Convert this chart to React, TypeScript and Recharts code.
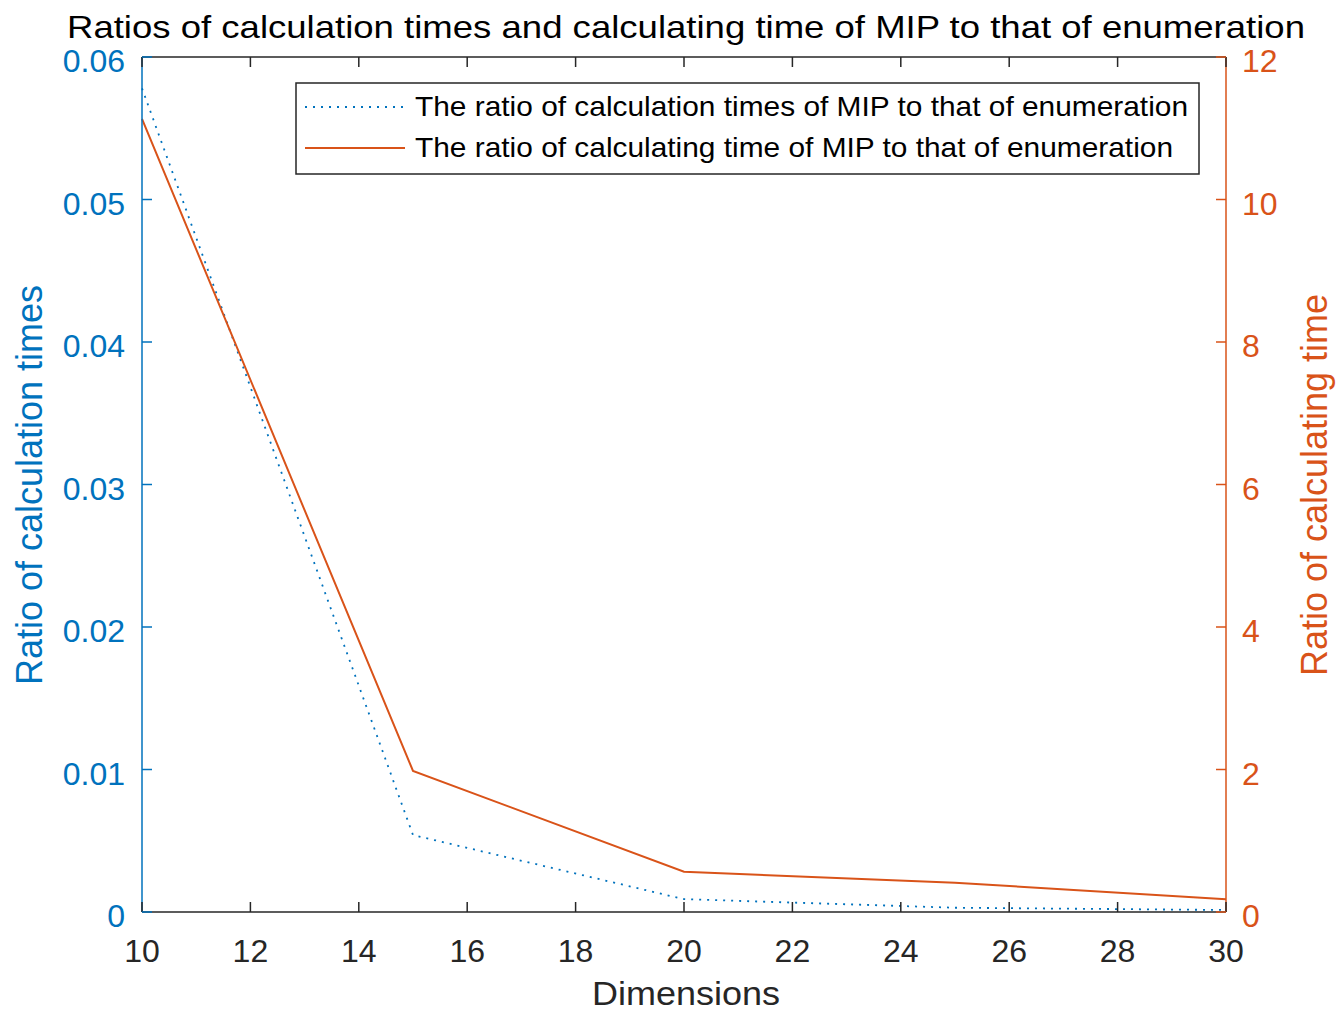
import React from 'react';
import { LineChart, Line, XAxis, YAxis, Legend, Customized } from 'recharts';

const dimensions = [10, 15, 20, 25, 30];
const calcTimesRatio = [0.0578, 0.0054, 0.0009, 0.0003, 0.00014];
const calcTimeRatio = [11.13, 1.98, 0.565, 0.41, 0.18];

const xTicks = [10, 12, 14, 16, 18, 20, 22, 24, 26, 28, 30];
const leftTicks = [0, 0.01, 0.02, 0.03, 0.04, 0.05, 0.06];
const leftTickLabels = ['0', '0.01', '0.02', '0.03', '0.04', '0.05', '0.06'];
const rightTicks = [0, 2, 4, 6, 8, 10, 12];

const seriesNames = [
  'The ratio of calculation times of MIP to that of enumeration',
  'The ratio of calculating time of MIP to that of enumeration',
];
const titleText = 'Ratios of calculation times and calculating time of MIP to that of enumeration';
const xLabel = 'Dimensions';
const leftLabel = 'Ratio of calculation times';
const rightLabel = 'Ratio of calculating time';

const data = dimensions.map((d, i) => ({
  dim: d,
  times: calcTimesRatio[i],
  time: calcTimeRatio[i],
}));

const BLUE = '#0072BD';
const ORANGE = '#D95319';
const DARK = '#262626';
const FONT = '"Liberation Sans", Arial, Helvetica, sans-serif';
const TICK_FS = 32;
const TICK_LEN = 10;

const BottomTick = (props: any) => {
  const { x, y, payload } = props;
  return (
    <g>
      <line x1={x} y1={y} x2={x} y2={y - TICK_LEN} stroke={DARK} strokeWidth={1.5} />
      <text x={x} y={y + 50} textAnchor="middle" fill={DARK} fontSize={TICK_FS} fontFamily={FONT}>
        {payload.value}
      </text>
    </g>
  );
};

const TopTick = (props: any) => {
  const { x, y } = props;
  return <line x1={x} y1={y} x2={x} y2={y + TICK_LEN} stroke={DARK} strokeWidth={1.5} />;
};

const LeftTick = (props: any) => {
  const { x, y, payload } = props;
  const idx = leftTicks.indexOf(payload.value);
  const label = idx >= 0 ? leftTickLabels[idx] : String(payload.value);
  return (
    <g>
      <line x1={x} y1={y} x2={x + TICK_LEN} y2={y} stroke={BLUE} strokeWidth={1.5} />
      <text x={x - 17} y={y + 15} textAnchor="end" fill={BLUE} fontSize={TICK_FS} fontFamily={FONT}>
        {label}
      </text>
    </g>
  );
};

const RightTick = (props: any) => {
  const { x, y, payload } = props;
  return (
    <g>
      <line x1={x} y1={y} x2={x - TICK_LEN} y2={y} stroke={ORANGE} strokeWidth={1.5} />
      <text x={x + 16} y={y + 15} textAnchor="start" fill={ORANGE} fontSize={TICK_FS} fontFamily={FONT}>
        {payload.value}
      </text>
    </g>
  );
};

const Texts = () => (
  <g fontFamily={FONT}>
    <text x={67} y={38} fontSize={32} fill="#000" textLength={1238} lengthAdjust="spacingAndGlyphs">
      {titleText}
    </text>
    <text x={592} y={1005} fontSize={33} fill={DARK} textLength={188} lengthAdjust="spacingAndGlyphs">
      {xLabel}
    </text>
    <text
      x={42}
      y={485}
      fontSize={36}
      fill={BLUE}
      textAnchor="middle"
      transform="rotate(-90, 42, 485)"
    >
      {leftLabel}
    </text>
    <text
      x={1327}
      y={485}
      fontSize={36}
      fill={ORANGE}
      textAnchor="middle"
      transform="rotate(-90, 1327, 485)"
    >
      {rightLabel}
    </text>
  </g>
);

const LegendBox = (props: any) => {
  const payload = [...(props.payload || [])].sort(
    (a: any, b: any) => seriesNames.indexOf(a.value) - seriesNames.indexOf(b.value)
  );
  const textLengths = [773, 758];
  return (
    <svg width={906} height={94} style={{ display: 'block' }}>
      <rect x={1} y={1} width={903} height={91} fill="#fff" stroke={DARK} strokeWidth={1.5} />
      {payload.map((entry: any, i: number) => {
        const cy = 25 + i * 41;
        const dash = entry.payload && entry.payload.strokeDasharray;
        return (
          <g key={i}>
            <line
              x1={10}
              y1={cy}
              x2={110}
              y2={cy}
              stroke={entry.color}
              strokeWidth={dash ? 1.8 : 2}
              strokeDasharray={dash}
            />
            <text
              x={120}
              y={cy + 9}
              fontSize={28}
              fontFamily={FONT}
              fill="#000"
              textLength={textLengths[i]}
              lengthAdjust="spacingAndGlyphs"
            >
              {entry.value}
            </text>
          </g>
        );
      })}
    </svg>
  );
};

export default function App() {
  return (
    <div style={{ position: 'absolute', left: 0, top: 0, width: 1336, height: 1011, background: '#fff' }}>
      <LineChart width={1336} height={1011} data={data} margin={{ top: 56, right: 0, bottom: 0, left: 0 }}>
        <XAxis
          xAxisId="bottom"
          dataKey="dim"
          type="number"
          domain={[10, 30]}
          ticks={xTicks}
          interval={0}
          height={99}
          tickSize={0}
          tickMargin={0}
          tickLine={false}
          axisLine={{ stroke: DARK, strokeWidth: 1.5 }}
          tick={<BottomTick />}
        />
        <XAxis
          xAxisId="top"
          orientation="top"
          dataKey="dim"
          type="number"
          domain={[10, 30]}
          ticks={xTicks}
          interval={0}
          height={1}
          tickSize={0}
          tickMargin={0}
          tickLine={false}
          axisLine={{ stroke: DARK, strokeWidth: 1.5 }}
          tick={<TopTick />}
        />
        <YAxis
          yAxisId="left"
          orientation="left"
          type="number"
          domain={[0, 0.06]}
          ticks={leftTicks}
          interval={0}
          width={142}
          tickSize={0}
          tickMargin={0}
          tickLine={false}
          axisLine={{ stroke: BLUE, strokeWidth: 1.5 }}
          tick={<LeftTick />}
        />
        <YAxis
          yAxisId="right"
          orientation="right"
          type="number"
          domain={[0, 12]}
          ticks={rightTicks}
          interval={0}
          width={110}
          tickSize={0}
          tickMargin={0}
          tickLine={false}
          axisLine={{ stroke: ORANGE, strokeWidth: 1.5 }}
          tick={<RightTick />}
        />
        <Line
          xAxisId="bottom"
          yAxisId="left"
          dataKey="times"
          name={seriesNames[0]}
          stroke={BLUE}
          strokeWidth={1.8}
          strokeDasharray="2 6"
          dot={false}
          activeDot={false}
          isAnimationActive={false}
        />
        <Line
          xAxisId="bottom"
          yAxisId="right"
          dataKey="time"
          name={seriesNames[1]}
          stroke={ORANGE}
          strokeWidth={2}
          dot={false}
          activeDot={false}
          isAnimationActive={false}
        />
        <Legend
          layout="horizontal"
          verticalAlign="middle"
          align="center"
          content={<LegendBox />}
          wrapperStyle={{ position: 'absolute', left: 295, top: 82, width: 906, height: 94 }}
        />
        <Customized component={Texts} />
      </LineChart>
    </div>
  );
}
